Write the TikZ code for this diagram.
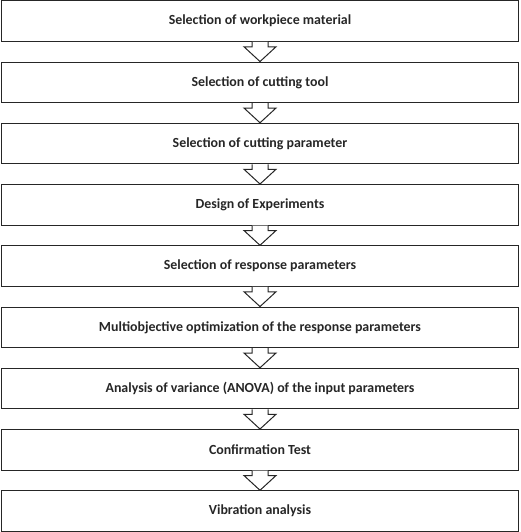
\documentclass[tikz,border=0pt]{standalone}
\usepackage{fontspec}
\setmainfont{Carlito}
\usetikzlibrary{calc}
\begin{document}
\begin{tikzpicture}[x=1pt,y=-1pt,
  stepbox/.style={draw=black!85, line width=1pt, inner sep=0pt,
    minimum width=517pt, minimum height=40.5pt,
    font=\bfseries\fontsize{13.9}{16}\selectfont, text=black!85},
  flowarrow/.style={draw=black!85, line width=1pt, line join=miter, fill=white}]
\useasboundingbox (0,0) rectangle (520,532);
\def\pitch{61.25}
\foreach \t [count=\i from 0] in {
  Selection of workpiece material,
  Selection of cutting tool,
  Selection of cutting parameter,
  Design of Experiments,
  Selection of response parameters,
  Multiobjective optimization of the response parameters,
  Analysis of variance (ANOVA) of the input parameters,
  Confirmation Test,
  Vibration analysis}{
  \node[stepbox] (b\i) at (260, 0.8+20.25+\pitch*\i) {\t};
}
\foreach \i [evaluate=\i as \j using int(\i+1)] in {0,...,7}{
  \draw[flowarrow] ($(b\i.south)+(-8,0)$) -- ($(b\i.south)+(-8,5)$)
    -- ($(b\i.south)+(-16,5)$) -- (b\j.north) -- ($(b\i.south)+(16,5)$)
    -- ($(b\i.south)+(8,5)$) -- ($(b\i.south)+(8,0)$);
}
\end{tikzpicture}
\end{document}
